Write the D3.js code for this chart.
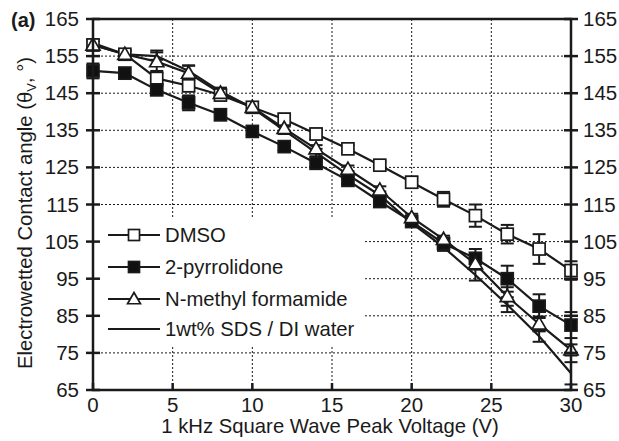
<!DOCTYPE html>
<html><head><meta charset="utf-8">
<script src="https://cdn.jsdelivr.net/npm/d3@7"></script>
<style>body{margin:0;background:#fff}svg{display:block}text{font-family:"Liberation Sans",Arial,sans-serif;fill:#1a1a1a}</style>
</head><body><svg id="c" width="619" height="441"></svg>
<script>
const voltage = [0,2,4,6,8,10,12,14,16,18,20,22,24,26,28,30];
const dmso = [158,155.5,149,147,144.5,141.2,138,134,130,125.6,121,116.4,112,107,103,97.2];
const dmsoErr = [1.5,1,2,1.5,1.5,1,1.5,1.5,1,1,1.5,2,3,2.5,4,2.5];
const pyrr = [151,150.4,145.9,142.4,139.2,134.7,130.6,126.1,121.5,115.8,110.4,104.5,100.5,95,87.6,82.5];
const pyrrErr = [2,1.5,1,2,1.5,1,1,1,1,1,1,1.5,2.5,3.5,3.2,3.5];
const nmf = [158,155.5,153.5,150.4,145,141.2,135.5,130,124.5,118.9,111.5,105.6,99,90.2,82.8,75.8];
const nmfErr = [1,1,3,2,1,1,1,1,1,1,1,1,1.5,2.5,2,1.5];
const sds = [158.5,155.5,155,151,145.5,141,135,129,123,117.5,110,103.5,96,88,79.5,69.5];
const sdsErr = [1,1,1,1.5,1,1,1,1,1,1,1,1,1.5,2,1.5,3];
const xTicks = [0,5,10,15,20,25,30];
const yTicks = [65,75,85,95,105,115,125,135,145,155,165];
const seriesNames = ["DMSO","2-pyrrolidone","N-methyl formamide","1wt% SDS / DI water"];

const series = [
  {name:seriesNames[0], v:dmso, e:dmsoErr, m:"sq", fill:"#fff"},
  {name:seriesNames[1], v:pyrr, e:pyrrErr, m:"sq", fill:"#111"},
  {name:seriesNames[2], v:nmf, e:nmfErr, m:"tri", fill:"#fff"},
  {name:seriesNames[3], v:sds, e:sdsErr, m:null, fill:"none"}
];

const svg = d3.select("#c");
const L=93,R=571,T=19,B=390;
const x = d3.scaleLinear().domain([0,30]).range([L,R]);
const y = d3.scaleLinear().domain([65,165]).range([B,T]);
const ink="#1a1a1a";

// grid
const g = svg.append("g");
g.selectAll(".vg").data(xTicks.slice(1,-1)).join("line")
  .attr("x1",d=>x(d)).attr("x2",d=>x(d)).attr("y1",T).attr("y2",B)
  .attr("stroke",ink).attr("stroke-width",1).attr("stroke-dasharray","2,2");
g.selectAll(".hg").data(yTicks.slice(1,-1)).join("line")
  .attr("x1",L).attr("x2",R).attr("y1",d=>y(d)).attr("y2",d=>y(d))
  .attr("stroke",ink).attr("stroke-width",1).attr("stroke-dasharray","2,2");

// legend background
svg.append("rect").attr("x",97).attr("y",218).attr("width",268).attr("height",127).attr("fill","#fff");

// lines
const line = d3.line().x((d,i)=>x(voltage[i])).y(d=>y(d));
series.forEach(s=>{
  svg.append("path").attr("d",line(s.v)).attr("fill","none").attr("stroke",ink).attr("stroke-width",2.2);
});
// error bars
series.forEach(s=>{
  const eg = svg.append("g").attr("stroke",ink).attr("stroke-width",2);
  s.v.forEach((v,i)=>{
    const cx=x(voltage[i]);
    eg.append("line").attr("x1",cx).attr("x2",cx).attr("y1",y(v-s.e[i])).attr("y2",y(v+s.e[i]));
    [v-s.e[i], v+s.e[i]].forEach(w=>eg.append("line").attr("x1",cx-6.5).attr("x2",cx+6.5).attr("y1",y(w)).attr("y2",y(w)));
  });
});
function marker(sel, m, fill, cx, cy, sz){
  if(m==="sq"){
    sel.append("rect").attr("x",cx-sz/2).attr("y",cy-sz/2).attr("width",sz).attr("height",sz)
      .attr("fill",fill).attr("stroke",ink).attr("stroke-width",1.7);
  } else if(m==="tri"){
    sel.append("path").attr("d",d3.symbol(d3.symbolTriangle,sz*sz*0.6)())
      .attr("transform",`translate(${cx},${cy+1})`).attr("fill",fill).attr("stroke",ink).attr("stroke-width",1.7);
  }
}
series.forEach(s=>{
  if(!s.m) return;
  const mg=svg.append("g");
  s.v.forEach((v,i)=>marker(mg,s.m,s.fill,x(voltage[i]),y(v),12));
});

// frame
svg.append("rect").attr("x",L).attr("y",T).attr("width",R-L).attr("height",B-T)
  .attr("fill","none").attr("stroke",ink).attr("stroke-width",2.5);

// left/right ticks crossing
yTicks.forEach(t=>{
  svg.append("line").attr("x1",L-7).attr("x2",L+7).attr("y1",y(t)).attr("y2",y(t)).attr("stroke",ink).attr("stroke-width",2.5);
  svg.append("line").attr("x1",R-7).attr("x2",R+7).attr("y1",y(t)).attr("y2",y(t)).attr("stroke",ink).attr("stroke-width",2.5);
  svg.append("text").attr("x",L-14).attr("y",y(t)+7).attr("text-anchor","end").attr("font-size",20.5).text(t);
  svg.append("text").attr("x",R+12).attr("y",y(t)+7).attr("text-anchor","start").attr("font-size",20.5).text(t);
});
xTicks.forEach(t=>{
  svg.append("line").attr("x1",x(t)).attr("x2",x(t)).attr("y1",B).attr("y2",B-7).attr("stroke",ink).attr("stroke-width",2.5);
  svg.append("text").attr("x",x(t)).attr("y",412).attr("text-anchor","middle").attr("font-size",20.5).text(t);
});

// axis titles
svg.append("text").attr("x",330).attr("y",433).attr("text-anchor","middle").attr("font-size",20.3)
  .text("1 kHz Square Wave Peak Voltage (V)");
const yl = svg.append("text").attr("transform","translate(32,213) rotate(-90)").attr("text-anchor","middle").attr("font-size",20.3);
yl.append("tspan").text("Electrowetted Contact angle (θ");
yl.append("tspan").attr("font-size",13).attr("dy",4).text("V");
yl.append("tspan").attr("dy",-4).text(", °)");
svg.append("text").attr("x",11).attr("y",27).attr("font-size",20).attr("font-weight","bold").text("(a)");

// legend
const ly=[235,267,299,329];
series.forEach((s,i)=>{
  svg.append("line").attr("x1",108).attr("x2",160).attr("y1",ly[i]).attr("y2",ly[i]).attr("stroke",ink).attr("stroke-width",2.2);
  if(s.m) marker(svg,s.m,s.fill,134,ly[i],11);
  svg.append("text").attr("x",165).attr("y",ly[i]+7).attr("font-size",20.3).text(s.name);
});
</script></body></html>
